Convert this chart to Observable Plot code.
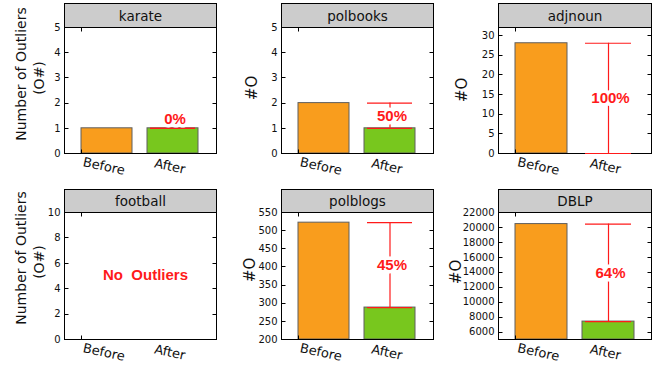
<!DOCTYPE html>
<html>
<head>
<meta charset="utf-8">
<script src="https://cdn.jsdelivr.net/npm/d3@7"></script>
<script src="https://cdn.jsdelivr.net/npm/@observablehq/plot@0.6"></script>
<style>
  body { margin: 0; background: #fff; }
  #chart { position: relative; width: 661px; height: 365px; overflow: hidden; font-family: "DejaVu Sans", sans-serif; color: #000; }
  .strip { position: absolute; background: #cccccc; border: 1px solid #000; box-sizing: border-box;
           font-size: 13.5px; display: flex; align-items: center; justify-content: center; color: #111; }
  .panel { position: absolute; }
  .panel svg { display: block; overflow: visible; }
  .ylab { position: absolute; white-space: nowrap; transform: translate(-50%, -50%) rotate(-90deg); color: #111; }
</style>
</head>
<body>
<div id="chart"></div>
<script>
// Outlier counts per network, before and after
const datasets = ["karate", "polbooks", "adjnoun", "football", "polblogs", "DBLP"];
const phases = ["Before", "After"];
const outliersBefore = [1, 2, 28, null, 522, 20450];
const outliersAfter = [1, 1, 0, null, 288, 7400];
const yDomains = [[0, 5], [0, 5], [0, 32], [0, 10], [200, 550], [5000, 22000]];
const yTicks = [
  [0, 1, 2, 3, 4, 5],
  [0, 1, 2, 3, 4, 5],
  [0, 5, 10, 15, 20, 25, 30],
  [0, 2, 4, 6, 8, 10],
  [200, 250, 300, 350, 400, 450, 500, 550],
  [6000, 8000, 10000, 12000, 14000, 16000, 18000, 20000, 22000]
];
const yLabels = [["Number of Outliers", "(O#)"], ["#O"], ["#O"], ["Number of Outliers", "(O#)"], ["#O"], ["#O"]];
const emptyNote = "No\u00a0\u00a0Outliers";

const ORANGE = "#f99d1d", GREEN = "#78c71e", RED = "#ff1a1a", EDGE = "#5f5f5f";

// grid geometry
const colLeft = [64, 281, 498];
const colWidth = [152, 152, 153];
const stripTop = [3, 189];
const plotTop = [27, 212];
const plotHeight = [126, 127];
const M = {left: 50, top: 6, right: 6, bottom: 30};

const chart = document.getElementById("chart");

// inward ticks on the left and right spines, plus the x tick at the first bar edge
function spineTicks(ticks) {
  return (index, scales, values, dims) => {
    const g = d3.create("svg:g").attr("stroke", "#000").attr("stroke-width", 1);
    const L = dims.marginLeft + 0.5, R = dims.width - dims.marginRight + 0.5;
    const T = dims.marginTop + 0.5, B = dims.height - dims.marginBottom + 0.5;
    for (const t of ticks) {
      const py = Math.round(scales.y(t)) + 0.5;
      g.append("line").attr("x1", L).attr("x2", L + 4).attr("y1", py).attr("y2", py);
      g.append("line").attr("x1", R - 4).attr("x2", R).attr("y1", py).attr("y2", py);
    }
    const px = Math.round(scales.x(phases[0])) + 0.5;
    g.append("line").attr("x1", px).attr("x2", px).attr("y1", B - 4).attr("y2", B);
    g.append("line").attr("x1", px).attr("x2", px).attr("y1", T).attr("y2", T + 4);
    return g.node();
  };
}

datasets.forEach((name, i) => {
  const col = i % 3, row = Math.floor(i / 3);
  const [y0, y1] = yDomains[i];
  const span = y1 - y0;
  const before = outliersBefore[i], after = outliersAfter[i];
  const has = before != null;
  const pw = colWidth[col], ph = plotHeight[row];

  const marks = [];
  if (has) {
    marks.push(Plot.barY([{phase: "Before", value: before}], {x: "phase", y1: y0, y2: "value", fill: ORANGE, stroke: EDGE, strokeWidth: 1}));
    if (after > y0) marks.push(Plot.barY([{phase: "After", value: after}], {x: "phase", y1: y0, y2: "value", fill: GREEN, stroke: EDGE, strokeWidth: 1}));
  }
  marks.push(spineTicks(yTicks[i]));
  marks.push(Plot.axisY({ticks: yTicks[i], tickFormat: d3.format("d"), tickSize: 0, tickPadding: 4, label: null, fontSize: 10}));
  marks.push(Plot.frame({stroke: "#000", strokeWidth: 1}));
  if (has) {
    const pct = Math.round((before - after) / before * 100) + "%";
    const labelY = Math.max((before + after) / 2, after + 0.075 * span);
    marks.push(Plot.tickY([after], {x: () => "After", y: d => d, insetLeft: 3, insetRight: 3, stroke: RED, strokeWidth: 1.2}));
    marks.push(Plot.ruleX([{phase: "After"}], {x: "phase", y1: after, y2: before, stroke: RED, strokeWidth: 1.2}));
    marks.push(Plot.tickY([before], {x: () => "After", y: d => d, insetLeft: 3, insetRight: 3, stroke: RED, strokeWidth: 1.2}));
    marks.push(Plot.text([pct], {x: () => "After", y: () => labelY, text: d => d, dx: 2,
      fill: RED, stroke: "white", strokeWidth: 7, fontWeight: "bold", fontSize: 15, fontFamily: "Liberation Sans, Arial, sans-serif"}));
  } else {
    marks.push(Plot.text([emptyNote], {frameAnchor: "middle", text: d => d, dx: 5, dy: -1,
      fill: RED, fontWeight: "bold", fontSize: 15, fontFamily: "Liberation Sans, Arial, sans-serif"}));
  }
  marks.push(Plot.text(phases, {x: d => d, text: d => d, frameAnchor: "bottom", dy: 17, dx: -4, rotate: 12, fontSize: 13, fill: "#111"}));

  const svg = Plot.plot({
    width: M.left + pw + M.right,
    height: M.top + ph + M.bottom,
    marginLeft: M.left, marginRight: M.right, marginTop: M.top, marginBottom: M.bottom,
    x: {type: "band", domain: phases, paddingInner: 0.22, paddingOuter: 0.245, axis: null},
    y: {domain: yDomains[i], axis: null},
    style: {fontFamily: "DejaVu Sans, sans-serif", fontSize: "10px", color: "#111", background: "transparent"},
    marks
  });

  const wrap = document.createElement("div");
  wrap.className = "panel";
  wrap.style.left = (colLeft[col] - M.left) + "px";
  wrap.style.top = (plotTop[row] - M.top) + "px";
  wrap.appendChild(svg);
  chart.appendChild(wrap);

  const strip = document.createElement("div");
  strip.className = "strip";
  strip.style.left = colLeft[col] + "px";
  strip.style.top = stripTop[row] + "px";
  strip.style.width = (pw + 1) + "px";
  strip.style.height = (plotTop[row] - stripTop[row] + 1) + "px";
  strip.textContent = name;
  chart.appendChild(strip);
});

// rotated y-axis titles
const ylabPos = [
  [[21, 74], [39, 78]], [[252, 88]], [[462, 90]],
  [[21, 258], [39, 262]], [[250, 270]], [[456, 272]]
];
yLabels.forEach((lines, i) => {
  lines.forEach((txt, k) => {
    const d = document.createElement("div");
    d.className = "ylab";
    d.style.fontSize = lines.length > 1 ? "14px" : "15px";
    d.style.left = ylabPos[i][k][0] + "px";
    d.style.top = ylabPos[i][k][1] + "px";
    d.textContent = txt;
    chart.appendChild(d);
  });
});
</script>
</body>
</html>
